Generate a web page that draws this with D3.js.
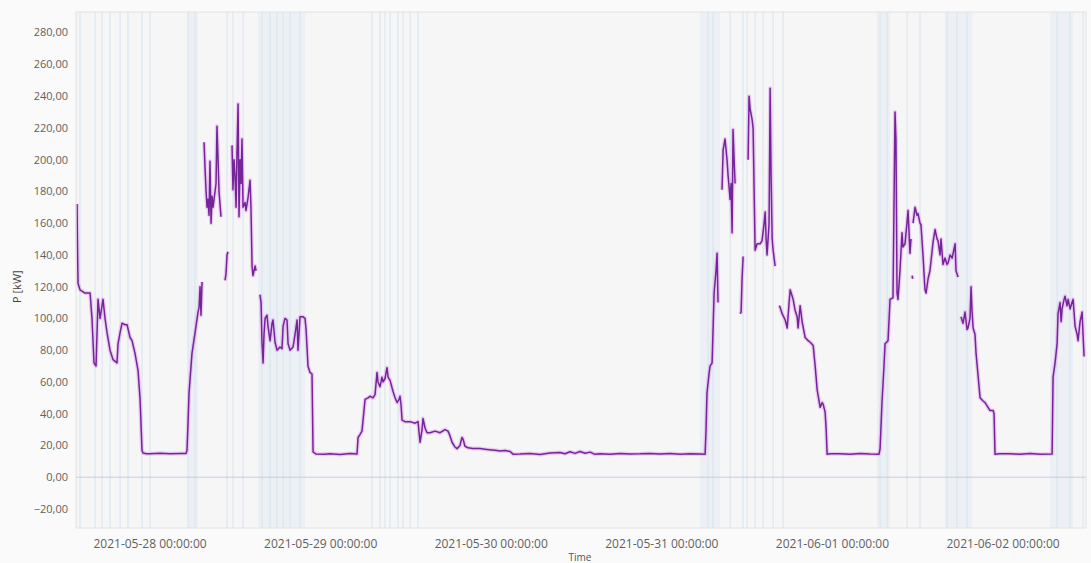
<!DOCTYPE html>
<meta charset="utf-8">
<script src="https://d3js.org/d3.v7.min.js"></script>
<style>
body {
  margin: 0;
  background: #fafafa;
  font-family: "Open Sans", sans-serif;
}
.tick-label { fill: #5f5f5f; }
</style>
<body>
<div id="chart"></div>
</body>
<script>
// measured power, one list per day: [time, kW] (null = no data)
var day0527 = [["13:44",172],["13:47",150],["13:52",122],["14:09",118],["14:51",116],["15:34",116],["15:50",100],["16:07",72],["16:24",70],["16:41",112],["16:58",100],["17:15",108],["17:23",112],["17:40",100],["17:57",91],["18:22",80],["18:48",74],["19:21",72],["19:30",84],["19:47",91],["20:04",97],["20:29",96],["20:46",96],["21:11",88],["21:28",86],["21:53",78],["22:19",67],["22:36",49],["22:52",17],["23:01",15.2],["23:30",14.8]];
var day0528 = [["00:00",14.8],["01:24",15.1],["02:49",14.7],["04:13",15.0],["05:04",15.0],["05:12",17],["05:21",35],["05:29",53],["05:54",78],["06:20",91],["06:45",104],["06:54",107],["07:02",120],["07:10",102],["07:19",123],["07:27",null],
  ["07:36",211],["07:44",195],["07:53",180],["08:01",170],["08:09",175],["08:18",165],["08:26",199],["08:35",160],["08:43",177],["08:52",170],["09:00",175],["09:17",185],["09:25",221],["09:34",200],["09:42",180],["09:59",164],["10:15",null],
  ["10:33",124],["10:41",128],["10:50",140],["10:58",142],["11:15",null],
  ["11:32",209],["11:40",181],["11:49",200],["11:57",190],["12:06",170],["12:14",205],["12:23",235],["12:31",164],["12:40",200],["12:48",185],["12:56",213],["13:05",170],["13:22",173],["13:30",168],["13:47",176],["14:04",187],["14:12",170],["14:21",133],["14:29",127],["14:46",133],["14:55",130],["15:10",null],
  ["15:28",115],["15:37",110],["15:45",85],["15:54",72],["16:02",90],["16:11",100],["16:27",102],["16:36",95],["16:53",86],["17:10",97],["17:18",99],["17:35",85],["17:52",80],["18:17",82],["18:34",81],["18:43",95],["18:59",100],["19:16",99],["19:25",84],["19:42",80],["20:07",82],["20:24",90],["20:41",99],["20:49",80],["21:06",101],["21:31",101],["21:48",100],["21:57",93],["22:05",82],["22:13",70],["22:30",66],["22:47",65],["22:56",16],["23:20",14.6]];
var day0529 = [["00:30",14.5],["01:19",14.8],["02:44",14.3],["04:08",14.9],["05:07",14.6],["05:16",25],["05:33",27],["05:49",29],["06:15",49],["06:40",50],["06:57",51],["07:22",50],["07:39",52],["07:56",66],["08:04",60],["08:21",57],["08:38",63],["08:47",60],["09:03",62],["09:20",69],["09:29",63],["09:46",61],["10:11",54],["10:28",50],["10:45",47],["11:02",49],["11:10",51],["11:19",45],["11:27",36],["11:52",35],["12:35",35],["13:17",34],["13:42",35],["13:59",22],["14:16",30],["14:24",37],["14:41",31],["14:58",28],["15:23",28],["16:06",29],["16:48",28],["17:30",30],["17:55",29],["18:12",26],["18:29",22],["18:54",19],["19:11",18],["19:36",20],["19:53",25],["20:02",24],["20:18",19.5],["20:44",18.5],["21:26",18],["22:25",18],["23:24",17.5]];
var day0530 = [["00:32",17],["01:14",16.5],["01:56",16.8],["02:39",16.2],["03:04",14.5],["04:03",14.6],["05:27",14.9],["06:52",14.3],["08:16",15.2],["09:40",15.6],["10:23",14.8],["11:05",16],["11:47",15],["12:29",16.2],["13:12",15.1],["13:54",15.8],["14:36",14.4],["15:18",14.8],["16:43",14.5],["18:07",14.9],["19:31",14.6],["20:56",14.7],["22:20",15.0],["23:45",14.6]];
var day0531 = [["01:09",14.9],["02:34",14.4],["03:58",14.8],["05:22",14.6],["06:05",14.5],["06:13",30],["06:21",53],["06:38",65],["06:47",70],["07:04",72],["07:21",116],["07:37",130],["07:46",141],["07:54",110],["08:10",null],
  ["08:28",181],["08:37",206],["08:53",213],["09:10",200],["09:19",190],["09:36",175],["09:44",185],["09:53",154],["10:01",219],["10:10",200],["10:18",185],["10:35",null],
  ["11:00",103],["11:09",104],["11:17",125],["11:26",139],["11:45",null],
  ["12:08",200],["12:16",240],["12:25",232],["12:42",225],["12:50",220],["13:07",143],["13:24",147],["13:49",147],["14:06",149],["14:23",160],["14:32",167],["14:40",150],["14:48",140],["15:05",160],["15:14",245],["15:22",190],["15:31",150],["15:39",143],["15:56",133],["16:15",null],
  ["16:30",108],["16:38",107],["16:55",103],["17:21",99],["17:38",94],["17:54",110],["18:03",118],["18:20",114],["18:28",112],["18:45",105],["19:02",101],["19:10",94],["19:27",108],["19:44",98],["20:09",88],["20:35",86],["20:52",85],["21:17",83],["21:34",70],["21:51",55],["22:16",44],["22:33",47],["22:41",46],["22:58",41],["23:07",30],["23:15",14.5],["23:40",14.7]];
var day0601 = [["01:04",14.8],["02:29",14.4],["03:53",14.9],["05:17",14.6],["06:33",14.5],["06:42",18],["06:58",47],["07:15",70],["07:24",84],["07:49",86],["08:06",112],["08:31",113],["08:48",230],["08:56",213],["09:05",116],["09:13",112],["09:30",130],["09:47",154],["09:55",145],["10:12",147],["10:29",160],["10:38",168],["10:46",155],["10:54",141],["11:03",150],["11:08",null],
  ["11:13",127],["11:16",125],["11:18",null],
  ["11:20",160],["11:37",170],["11:54",165],["12:02",166],["12:19",160],["12:27",159],["12:44",140],["13:01",118],["13:10",116],["13:27",125],["13:43",130],["14:09",148],["14:26",156],["14:43",150],["14:51",149],["15:08",140],["15:16",150],["15:33",134],["15:50",138],["16:07",134],["16:16",135],["16:33",140],["16:50",138],["17:15",147],["17:23",130],["17:40",126],["17:52",null],
  ["18:05",101],["18:22",97],["18:39",104],["18:56",93],["19:04",94],["19:21",100],["19:30",120],["19:38",105],["19:47",94],["20:03",90],["20:12",78],["20:29",64],["20:46",50],["21:11",48],["21:28",47],["21:53",44],["22:10",42],["22:36",42],["22:44",40],["22:52",14.5],["23:30",14.7]];
var day0602 = [["00:59",14.8],["02:23",14.4],["03:48",14.9],["05:12",14.5],["06:54",14.6],["07:02",63],["07:19",72],["07:36",84],["07:44",103],["08:01",110],["08:10",98],["08:18",106],["08:35",112],["08:43",114],["09:00",108],["09:09",112],["09:26",106],["09:42",110],["09:51",112],["10:08",95],["10:25",90],["10:33",86],["10:50",98],["11:07",104],["11:15",90],["11:24",76]];

var days = [["2021-05-27", day0527], ["2021-05-28", day0528], ["2021-05-29", day0529], ["2021-05-30", day0530],
            ["2021-05-31", day0531], ["2021-06-01", day0601], ["2021-06-02", day0602]];

// event markers (thin vertical lines) and event periods (bands)
var eventTimes = ["2021-05-27 14:09","2021-05-27 16:16","2021-05-27 17:15","2021-05-27 18:22","2021-05-27 19:47","2021-05-27 20:54","2021-05-27 22:52",
  "2021-05-28 00:00","2021-05-28 05:21","2021-05-28 06:20","2021-05-28 10:50","2021-05-28 11:40","2021-05-28 13:05","2021-05-28 15:45","2021-05-28 16:53",
  "2021-05-28 17:52","2021-05-28 18:43","2021-05-28 19:42","2021-05-28 21:06","2021-05-29 07:14","2021-05-29 08:21","2021-05-29 09:03","2021-05-29 09:46",
  "2021-05-29 10:53","2021-05-29 11:35","2021-05-29 12:35","2021-05-29 13:42","2021-05-31 06:30","2021-05-31 07:12","2021-05-31 09:36","2021-05-31 11:25",
  "2021-05-31 11:59","2021-05-31 13:07","2021-05-31 14:14","2021-05-31 15:39","2021-05-31 17:03","2021-06-01 06:42","2021-06-01 07:41","2021-06-01 10:30",
  "2021-06-01 12:19","2021-06-01 16:07","2021-06-01 17:32","2021-06-01 18:56","2021-06-02 07:36","2021-06-02 09:25","2021-06-02 11:15"];
var eventStarts = ["2021-05-28 05:21","2021-05-28 15:11","2021-05-31 05:22","2021-06-01 06:16","2021-06-01 15:49","2021-06-02 06:37"];
var eventEnds   = ["2021-05-28 06:45","2021-05-28 21:48","2021-05-31 08:11","2021-06-01 08:06","2021-06-01 19:39","2021-06-02 09:51"];

var timeStart = "2021-05-27 13:35", timeEnd = "2021-06-02 11:40";
var yMin = -32, yMax = 293;
var yTicks = d3.range(-20, 281, 20);
var xTicks = ["2021-05-28 00:00","2021-05-29 00:00","2021-05-30 00:00","2021-05-31 00:00","2021-06-01 00:00","2021-06-02 00:00"];

// ---------------------------------------------------------------
var parse = d3.timeParse("%Y-%m-%d %H:%M");
var data = [];
days.forEach(function (d) {
  d[1].forEach(function (p) {
    data.push({ t: parse(d[0] + " " + p[0]), v: p[1] });
  });
});

var margin = { top: 12, right: 5, bottom: 35, left: 76 },
    width = 1091 - margin.left - margin.right,
    height = 563 - margin.top - margin.bottom;

var svg = d3.select("#chart").append("svg")
    .attr("width", 1091)
    .attr("height", 563)
    .style("display", "block");

var g = svg.append("g")
    .attr("transform", "translate(" + margin.left + "," + margin.top + ")");

var x = d3.scaleTime()
    .domain([parse(timeStart), parse(timeEnd)])
    .range([0, width]);

var y = d3.scaleLinear()
    .domain([yMin, yMax])
    .range([height, 0]);

var deFormat = d3.formatLocale({ decimal: ",", thousands: ".", grouping: [3], currency: ["", ""] }).format(".2f");

g.append("rect")
    .attr("width", width)
    .attr("height", height)
    .attr("fill", "#f6f6f7");

// bands
g.selectAll(".band")
    .data(eventStarts)
    .enter().append("rect")
    .attr("class", "band")
    .attr("x", function (d) { return x(parse(d)); })
    .attr("y", 0)
    .attr("width", function (d, i) { return x(parse(eventEnds[i])) - x(parse(d)); })
    .attr("height", height)
    .attr("fill", "#e1eaf2")
    .attr("opacity", 0.5);

// event lines
g.selectAll(".evt")
    .data(eventTimes)
    .enter().append("line")
    .attr("class", "evt")
    .attr("x1", function (d) { return x(parse(d)); })
    .attr("x2", function (d) { return x(parse(d)); })
    .attr("y1", 0)
    .attr("y2", height)
    .attr("stroke", "#d6e3ee")
    .attr("stroke-width", 1);

// zero line
g.append("line")
    .attr("x1", 0).attr("x2", width)
    .attr("y1", y(0)).attr("y2", y(0))
    .attr("stroke", "#bdd1e0")
    .attr("stroke-width", 1);

var line = d3.line()
    .defined(function (d) { return d.v !== null; })
    .x(function (d) { return x(d.t); })
    .y(function (d) { return y(d.v); });

g.append("path")
    .datum(data)
    .attr("fill", "none")
    .attr("stroke", "#dc9fea")
    .attr("stroke-opacity", 0.5)
    .attr("stroke-width", 4)
    .attr("stroke-linejoin", "round")
    .attr("d", line);

g.append("path")
    .datum(data)
    .attr("fill", "none")
    .attr("stroke", "#76249a")
    .attr("stroke-width", 1.5)
    .attr("stroke-linejoin", "round")
    .attr("d", line);

// frame
g.append("rect")
    .attr("width", width)
    .attr("height", height)
    .attr("fill", "none")
    .attr("stroke", "#e2e2e2");

// y labels
g.selectAll(".ylab")
    .data(yTicks)
    .enter().append("text")
    .attr("class", "tick-label")
    .attr("x", -8)
    .attr("y", function (d) { return y(d); })
    .attr("dy", "0.35em")
    .attr("text-anchor", "end")
    .style("font-size", "11px")
    .text(function (d) { return deFormat(d); });

// x labels
var fmtTime = d3.timeFormat("%Y-%m-%d %H:%M:%S");
g.selectAll(".xlab")
    .data(xTicks)
    .enter().append("text")
    .attr("class", "tick-label")
    .attr("x", function (d) { return x(parse(d)); })
    .attr("y", height + 20)
    .attr("text-anchor", "middle")
    .style("font-size", "12px")
    .text(function (d) { return fmtTime(parse(d)); });

// axis titles
svg.append("text")
    .attr("transform", "translate(21," + (margin.top + y(120)) + ") rotate(-90)")
    .attr("text-anchor", "middle")
    .attr("fill", "#444")
    .style("font-size", "11px")
    .text("P [kW]");

svg.append("text")
    .attr("x", 580)
    .attr("y", 561)
    .attr("text-anchor", "middle")
    .attr("fill", "#555")
    .style("font-size", "10px")
    .text("Time");
</script>
